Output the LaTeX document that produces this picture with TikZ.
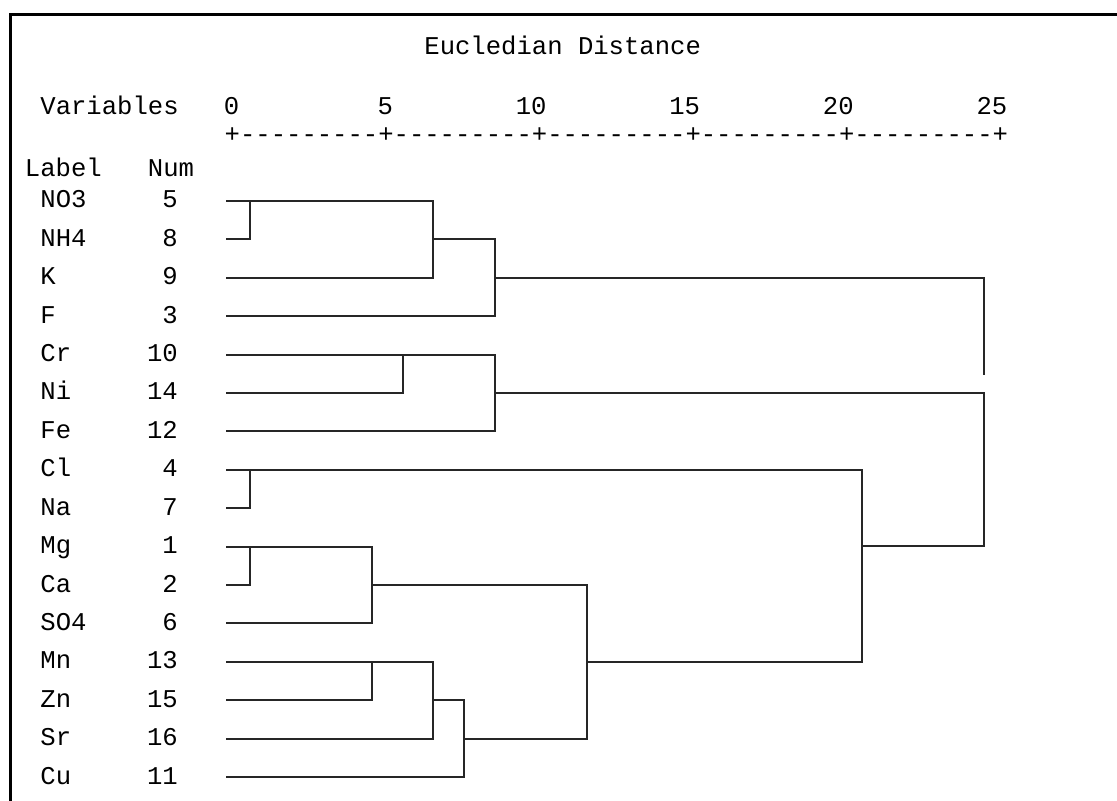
\documentclass[tikz,border=0pt]{standalone}
\usepackage{fontspec}
\setmonofont{Liberation Mono}
\usetikzlibrary{positioning}
\tikzset{
txt/.style={font=\ttfamily\fontsize{12.8}{14}\selectfont, inner sep=0pt},
lbl/.style={txt, anchor=base west},
num/.style={txt, anchor=base east},
tree/.style={line width=1pt, line join=miter, black!85},
frame/.style={line width=1.5pt}
}
\begin{document}
\begin{tikzpicture}[x=0.5pt,y=-0.5pt]
\useasboundingbox (0,0) rectangle (1117,801);
\draw[frame] (1117,15) -- (10,15) -- (10,801);
% header
\node[lbl] (title) at (424,55) {Eucledian Distance};
\node[lbl] (vars) at (40,115) {Variables};
\foreach \t [count=\k from 0] in {0,5,10,15,20,25}
    \node[num] (tick\t) at (239.7+153.6*\k,115) {\t};
\node[lbl] (ruler) at (224.3,143) {+---------+---------+---------+---------+---------+};
\node[lbl] (lblhead) at (24.6,177) {Label};
\node[lbl] (numhead) at (147.5,177) {Num};
% leaves
\foreach \lab/\n [count=\i from 0] in {NO3/5,NH4/8,K/9,F/3,Cr/10,Ni/14,Fe/12,Cl/4,Na/7,Mg/1,Ca/2,SO4/6,Mn/13,Zn/15,Sr/16,Cu/11}{
    \node[lbl] (lab-\lab) at (40,208+38.4*\i) {\lab};
    \node[num] (num-\lab) at (178.2,208+38.4*\i) {\n};
    \coordinate (\lab) at (226,201+38.4*\i);
}
% first group
\draw[tree] (NH4) -| (250,0 |- NO3);
\draw[tree] (NO3) -- (433,0 |- NO3) -- (433,0 |- K) -- (K);
\draw[tree] (433,0 |- NH4) -| (495,0 |- F) -- (F);
\draw[tree] (495,0 |- K) -| (984,375);
% second group
\draw[tree] (Ni) -| (403,0 |- Cr);
\draw[tree] (Cr) -- (495,0 |- Cr) -- (495,0 |- Fe) -- (Fe);
\draw[tree] (495,0 |- Ni) -| (984,546) -- (862,546);
% third group
\draw[tree] (Na) -| (250,0 |- Cl);
\draw[tree] (Cl) -- (862,0 |- Cl) -- (862,0 |- Mn) -- (587,0 |- Mn);
\draw[tree] (Ca) -| (250,0 |- Mg);
\draw[tree] (Mg) -- (372,0 |- Mg) -- (372,0 |- SO4) -- (SO4);
\draw[tree] (372,0 |- Ca) -| (587,0 |- Sr) -- (464,0 |- Sr);
\draw[tree] (Zn) -| (372,0 |- Mn);
\draw[tree] (Mn) -- (433,0 |- Mn) -- (433,0 |- Sr) -- (Sr);
\draw[tree] (433,0 |- Zn) -- (464,0 |- Zn) -- (464,0 |- Cu) -- (Cu);
\end{tikzpicture}
\end{document}
